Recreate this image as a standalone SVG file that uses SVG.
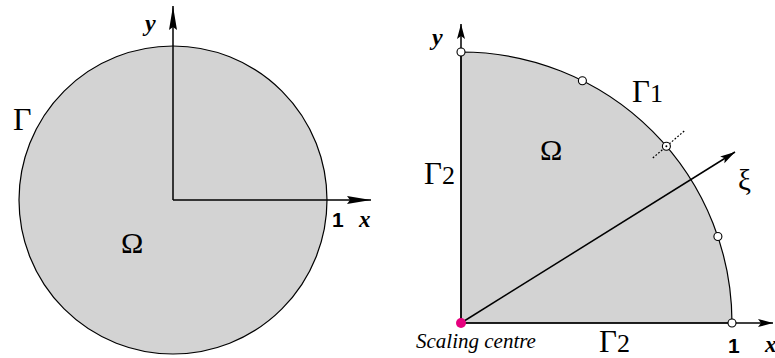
<svg xmlns="http://www.w3.org/2000/svg" width="775" height="358" viewBox="0 0 775 358">
<style>
.region{fill:#d3d3d3;stroke:#000;stroke-width:1.2}
.axis{fill:none;stroke:#000;stroke-width:1.5}
.node{fill:#fff;stroke:#000;stroke-width:1.1}
.serif{font-family:"Liberation Serif","Times New Roman",serif;fill:#000}
.it{font-style:italic;font-weight:bold}
.one{font-family:"Liberation Sans",Arial,sans-serif;font-weight:bold;fill:#000}
</style>
<defs>
<marker id="bigArrow" markerUnits="userSpaceOnUse" markerWidth="30" markerHeight="12" refX="24" refY="5" orient="auto" viewBox="0 0 30 12" overflow="visible">
<path d="M24,5 L0,1 L3,5 L0,9 Z" fill="#000"/>
</marker>
<marker id="smallArrow" markerUnits="userSpaceOnUse" markerWidth="20" markerHeight="10" refX="15" refY="4" orient="auto" viewBox="0 0 20 10" overflow="visible">
<path d="M15,4 L0,0 L3,4 L0,8 Z" fill="#000"/>
</marker>
</defs>

<g id="disk">
<circle class="region" cx="173" cy="200" r="154"/>
</g>
<g id="quarter">
<path class="region" d="M461,323 L461,52 A271,271 0 0 1 732,323 Z"/>
</g>

<g id="connectors">
<line class="axis" x1="173" y1="200" x2="173" y2="6" marker-end="url(#bigArrow)"/>
<line class="axis" x1="173" y1="200" x2="371" y2="200" marker-end="url(#bigArrow)"/>
<line class="axis" x1="461" y1="323" x2="461" y2="24" marker-end="url(#smallArrow)"/>
<line class="axis" x1="461" y1="323" x2="773" y2="323" marker-end="url(#smallArrow)"/>
<line class="axis" x1="461" y1="323" x2="735" y2="152" marker-end="url(#smallArrow)"/>
<line x1="652.8" y1="158" x2="685.4" y2="130" stroke="#000" stroke-width="1.2" stroke-dasharray="1.8,1.8"/>
</g>

<g id="nodes">
<circle class="node" cx="461" cy="52" r="4"/>
<circle class="node" cx="582.4" cy="80.7" r="4"/>
<circle class="node" cx="666.4" cy="146.3" r="4"/>
<circle cx="666.4" cy="146.3" r="1" fill="#000"/>
<circle class="node" cx="717.9" cy="236.5" r="4"/>
<circle class="node" cx="732" cy="323" r="4"/>
<circle id="scaling-centre" cx="461" cy="323" r="5" fill="#e6007e"/>
</g>

<g id="labels-left">
<text class="serif it" x="145" y="31" font-size="24">y</text>
<text class="serif" x="13" y="130" font-size="32">Γ</text>
<text class="serif" x="121" y="253" font-size="30">Ω</text>
<text class="one" x="332" y="227" font-size="21">1</text>
<text class="serif it" x="359" y="227" font-size="23">x</text>
</g>

<g id="labels-right">
<text class="serif it" x="432" y="45" font-size="24">y</text>
<text class="serif" x="632" y="102" font-size="31">Γ<tspan font-size="26">1</tspan></text>
<text class="serif" x="540" y="160" font-size="30">Ω</text>
<text class="serif" x="424" y="184" font-size="31">Γ<tspan font-size="26">2</tspan></text>
<text class="serif" x="738" y="190" font-size="29">ξ</text>
<text class="serif" x="599" y="352" font-size="31">Γ<tspan font-size="26">2</tspan></text>
<text class="one" x="728" y="353" font-size="21">1</text>
<text class="serif it" x="765" y="352" font-size="23">x</text>
<text class="serif" x="416" y="348" font-size="21" font-style="italic">Scaling centre</text>
</g>
</svg>
